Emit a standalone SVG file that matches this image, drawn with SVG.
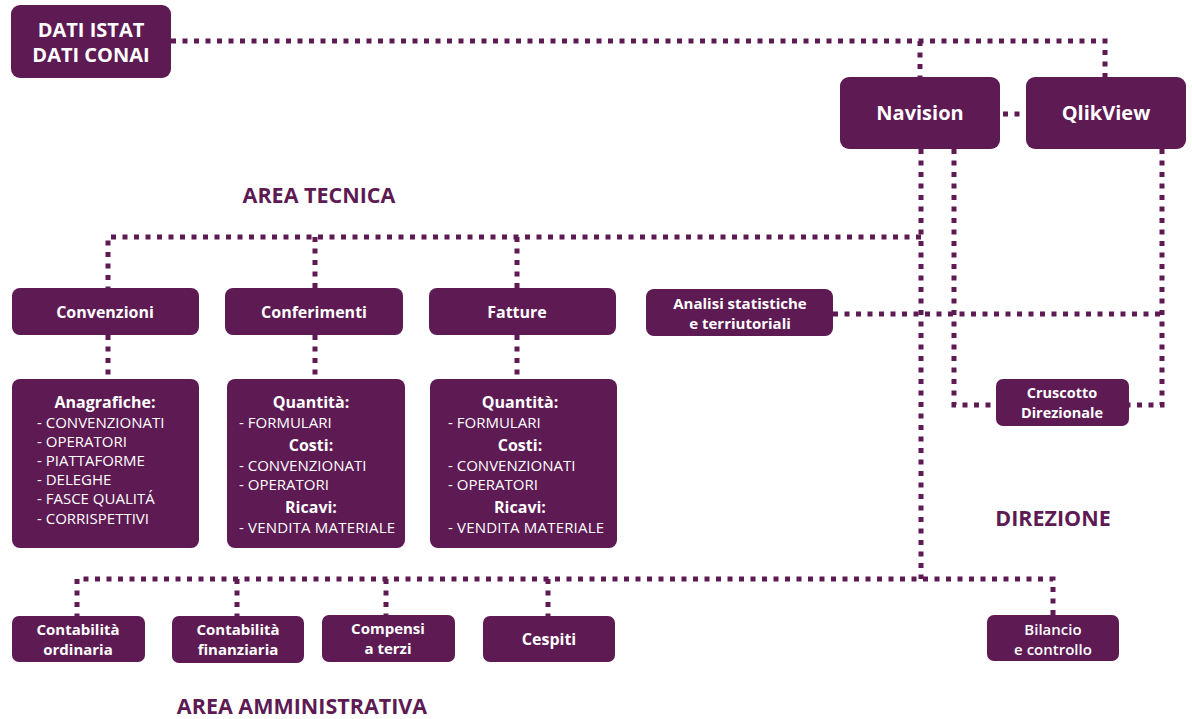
<svg xmlns="http://www.w3.org/2000/svg" width="1192" height="719" viewBox="0 0 1192 719">
<style>
.box{fill:#5d1a53}
.ln{fill:none;stroke:#5d1a53;stroke-width:5;stroke-dasharray:5 6.5}
text{font-family:"Open Sans","Noto Sans","Liberation Sans",sans-serif;fill:#fff}
.t1{font-size:20px;font-weight:700;text-anchor:middle}
.t2{font-size:16px;font-weight:700;text-anchor:middle}
.t4{font-size:15px;font-weight:700;text-anchor:middle}
.t3{font-size:14.5px;font-weight:700;text-anchor:middle}
.it{font-size:15px;font-weight:400}
.hd{font-size:21.5px;font-weight:700;text-anchor:middle;fill:#5d1a53}
</style>
<rect width="1192" height="719" fill="#fff"/>
<g id="connectors">
<path class="ln" d="M171,41 H1105 V77"/>
<path class="ln" d="M920,41 V77"/>
<path class="ln" d="M1003,114 H1023"/>
<path class="ln" d="M921,149 V579"/>
<path class="ln" d="M921,237 H108 V288"/>
<path class="ln" d="M315,237 V288"/>
<path class="ln" d="M517,237 V288"/>
<path class="ln" d="M108,335 V379"/>
<path class="ln" d="M315,335 V379"/>
<path class="ln" d="M517,335 V379"/>
<path class="ln" d="M954,149 V405 H996"/>
<path class="ln" d="M1162,149 V405 H1129"/>
<path class="ln" d="M833,314 H1162"/>
<path class="ln" d="M1053,615 V579 H77 V616"/>
<path class="ln" d="M237,579 V616"/>
<path class="ln" d="M386,579 V615"/>
<path class="ln" d="M548,579 V616"/>
</g>
<g id="dati">
<rect class="box" x="11" y="5" width="160" height="73" rx="9"/>
<text class="t1" x="91" y="37">DATI ISTAT</text>
<text class="t1" x="91" y="62">DATI CONAI</text>
</g>
<g id="navision">
<rect class="box" x="840" y="77" width="160" height="72" rx="9"/>
<text class="t1" x="920" y="120">Navision</text>
</g>
<g id="qlikview">
<rect class="box" x="1026" y="77" width="160" height="72" rx="9"/>
<text class="t1" x="1106" y="120">QlikView</text>
</g>
<g id="area-tecnica"><text class="hd" x="319" y="203">AREA TECNICA</text></g>
<g id="convenzioni">
<rect class="box" x="12" y="288" width="187" height="47" rx="8"/>
<text class="t2" x="105" y="318">Convenzioni</text>
</g>
<g id="conferimenti">
<rect class="box" x="225" y="288" width="178" height="47" rx="8"/>
<text class="t2" x="314" y="318">Conferimenti</text>
</g>
<g id="fatture">
<rect class="box" x="429" y="288" width="187" height="47" rx="8"/>
<text class="t2" x="517" y="318">Fatture</text>
</g>
<g id="analisi">
<rect class="box" x="646" y="289" width="187" height="47" rx="8"/>
<text class="t4" x="740" y="309">Analisi statistiche</text>
<text class="t4" x="740" y="329">e terriutoriali</text>
</g>
<g id="convenzioni-det">
<rect class="box" x="12" y="379" width="187" height="169" rx="8"/>
<text class="t2" x="105" y="408">Anagrafiche:</text>
<text class="it" x="37" y="428">- CONVENZIONATI</text>
<text class="it" x="37" y="447">- OPERATORI</text>
<text class="it" x="37" y="466">- PIATTAFORME</text>
<text class="it" x="37" y="485">- DELEGHE</text>
<text class="it" x="37" y="504">- FASCE QUALITÁ</text>
<text class="it" x="37" y="524">- CORRISPETTIVI</text>
</g>
<g id="conferimenti-det">
<rect class="box" x="227" y="379" width="178" height="169" rx="8"/>
<text class="t2" x="311" y="408">Quantità:</text>
<text class="it" x="239" y="428">- FORMULARI</text>
<text class="t2" x="311" y="451">Costi:</text>
<text class="it" x="239" y="471">- CONVENZIONATI</text>
<text class="it" x="239" y="490">- OPERATORI</text>
<text class="t2" x="311" y="513">Ricavi:</text>
<text class="it" x="239" y="533" textLength="156">- VENDITA MATERIALE</text>
</g>
<g id="fatture-det">
<rect class="box" x="430" y="379" width="187" height="169" rx="8"/>
<text class="t2" x="520" y="408">Quantità:</text>
<text class="it" x="448" y="428">- FORMULARI</text>
<text class="t2" x="520" y="451">Costi:</text>
<text class="it" x="448" y="471">- CONVENZIONATI</text>
<text class="it" x="448" y="490">- OPERATORI</text>
<text class="t2" x="520" y="513">Ricavi:</text>
<text class="it" x="448" y="533" textLength="156">- VENDITA MATERIALE</text>
</g>
<g id="cruscotto">
<rect class="box" x="996" y="379" width="133" height="47" rx="7"/>
<text class="t3" x="1062" y="398">Cruscotto</text>
<text class="t3" x="1062" y="418">Direzionale</text>
</g>
<g id="direzione"><text class="hd" x="1053" y="526">DIREZIONE</text></g>
<g id="cont-ord">
<rect class="box" x="12" y="616" width="133" height="46" rx="7"/>
<text class="t4" x="78" y="635">Contabilità</text>
<text class="t4" x="78" y="655">ordinaria</text>
</g>
<g id="cont-fin">
<rect class="box" x="172" y="616" width="132" height="47" rx="7"/>
<text class="t4" x="238" y="635">Contabilità</text>
<text class="t4" x="238" y="655">finanziaria</text>
</g>
<g id="compensi">
<rect class="box" x="322" y="615" width="133" height="47" rx="7"/>
<text class="t4" x="388" y="634">Compensi</text>
<text class="t4" x="388" y="654">a terzi</text>
</g>
<g id="cespiti">
<rect class="box" x="483" y="616" width="132" height="46" rx="7"/>
<text class="t2" x="549" y="645">Cespiti</text>
</g>
<g id="bilancio">
<rect class="box" x="987" y="615" width="132" height="46" rx="7"/>
<text class="t4" x="1053" y="635" style="font-weight:600">Bilancio</text>
<text class="t4" x="1053" y="655" style="font-weight:600">e controllo</text>
</g>
<g id="area-amm"><text class="hd" x="302" y="714">AREA AMMINISTRATIVA</text></g>
</svg>
